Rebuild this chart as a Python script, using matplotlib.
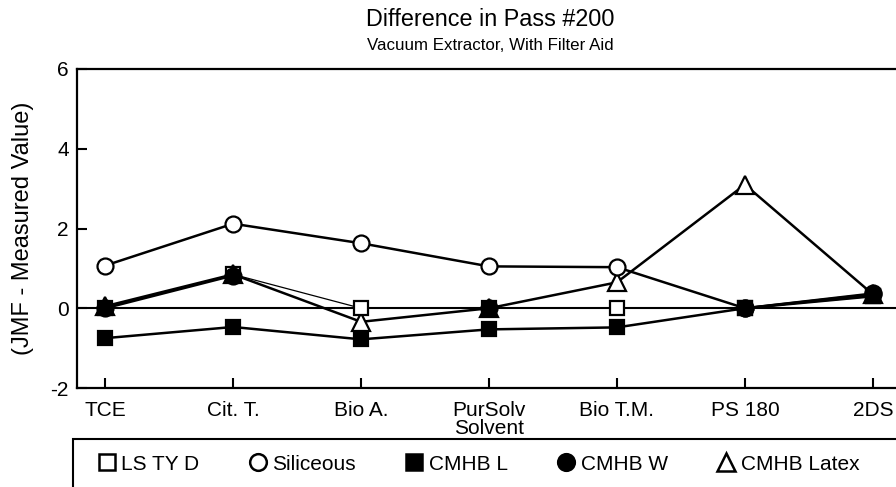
import numpy as np
import matplotlib
matplotlib.use("Agg")
import matplotlib.pyplot as plt
from matplotlib.lines import Line2D
from matplotlib.patches import Rectangle

plt.rcParams['font.family'] = ['Liberation Sans', 'DejaVu Sans']

categories = ["TCE", "Cit. T.", "Bio A.", "PurSolv\nSolvent", "Bio T.M.", "PS 180", "2DS"]
nan = np.nan
ls_ty_d   = [0.0, 0.85, 0.0, 0.0, 0.0, 0.0, 0.30]
siliceous = [1.07, 2.12, 1.63, 1.05, 1.03, 0.0, 0.35]
cmhb_l    = [-0.75, -0.47, -0.78, -0.53, -0.48, 0.0, 0.30]
cmhb_w    = [0.0, 0.82, nan, 0.0, nan, 0.0, 0.37]
cmhb_latex = [0.05, 0.85, -0.34, 0.0, 0.65, 3.10, 0.35]
yticks = [-2, 0, 2, 4, 6]
labels = ["LS TY D", "Siliceous", "CMHB L", "CMHB W", "CMHB Latex"]

W, H = 896, 487
fig = plt.figure(figsize=(W/100, H/100), dpi=100)
ax = fig.add_axes([77/W, 1-388/H, 824/W, 319/H])
for s in ax.spines.values():
    s.set_linewidth(1.6)
    s.set_clip_on(False)

x = np.arange(len(categories))
ax.axhline(0, color='black', lw=1.5, zorder=1)

ms = 11.5
mew = 1.6
ax.plot(x, cmhb_latex, '-', color='black', lw=1.8, marker='^', ms=ms+1, mfc='white', mec='black', mew=mew, zorder=3, clip_on=False)
ax.plot(x, ls_ty_d, '-', color='black', lw=0.9, marker='s', ms=ms-1, mfc='white', mec='black', mew=mew, zorder=4, clip_on=False)
ax.plot(x, siliceous, '-', color='black', lw=1.8, marker='o', ms=ms, mfc='white', mec='black', mew=mew, zorder=5, clip_on=False)
ax.plot(x, cmhb_w, '-', color='black', lw=1.8, marker='o', ms=ms, mfc='black', mec='black', mew=mew, zorder=6, clip_on=False)
ax.plot(x, cmhb_l, '-', color='black', lw=1.8, marker='s', ms=ms-1, mfc='black', mec='black', mew=mew, zorder=7, clip_on=False)

ax.set_xlim(-0.22, 6.22)
ax.set_ylim(-2, 6)
ax.set_xticks(x)
ax.set_xticklabels(categories, fontsize=15, linespacing=0.95)
ax.set_yticks(yticks)
ax.set_yticklabels([str(v) for v in yticks], fontsize=15)
ax.tick_params(axis='both', direction='in', length=7, width=1.5, colors='black')
ax.tick_params(axis='x', pad=9)
ax.tick_params(axis='y', pad=6)

ax.set_ylabel("(JMF - Measured Value)", fontsize=17, labelpad=12)

fig.text(490/W, 1-20/H, "Difference in Pass #200", ha='center', va='center', fontsize=16.8)
fig.text(490/W, 1-46/H, "Vacuum Extractor, With Filter Aid", ha='center', va='center', fontsize=12.2)

# legend frame (extends past the right and bottom edges, as in the scan)
fig.patches.append(Rectangle((73/W, -10/H), 840/W, (487-439+10)/H, transform=fig.transFigure,
                             fill=False, edgecolor='black', linewidth=1.5))

handles = [
    Line2D([], [], ls='none', marker='s', ms=11, mfc='white', mec='black', mew=1.8),
    Line2D([], [], ls='none', marker='o', ms=12, mfc='white', mec='black', mew=1.8),
    Line2D([], [], ls='none', marker='s', ms=11, mfc='black', mec='black', mew=1.8),
    Line2D([], [], ls='none', marker='o', ms=12, mfc='black', mec='black', mew=1.8),
    Line2D([], [], ls='none', marker='^', ms=13, mfc='white', mec='black', mew=1.8),
]
leg = fig.legend(handles, labels, loc='center left', bbox_to_anchor=(97.5/W, 1-464/H),
                 ncol=5, frameon=False, borderpad=0, borderaxespad=0,
                 handlelength=0.9, handletextpad=0.25, columnspacing=2.35,
                 prop={'size': 15})

fig.savefig("out.png", dpi=100, facecolor='white')
